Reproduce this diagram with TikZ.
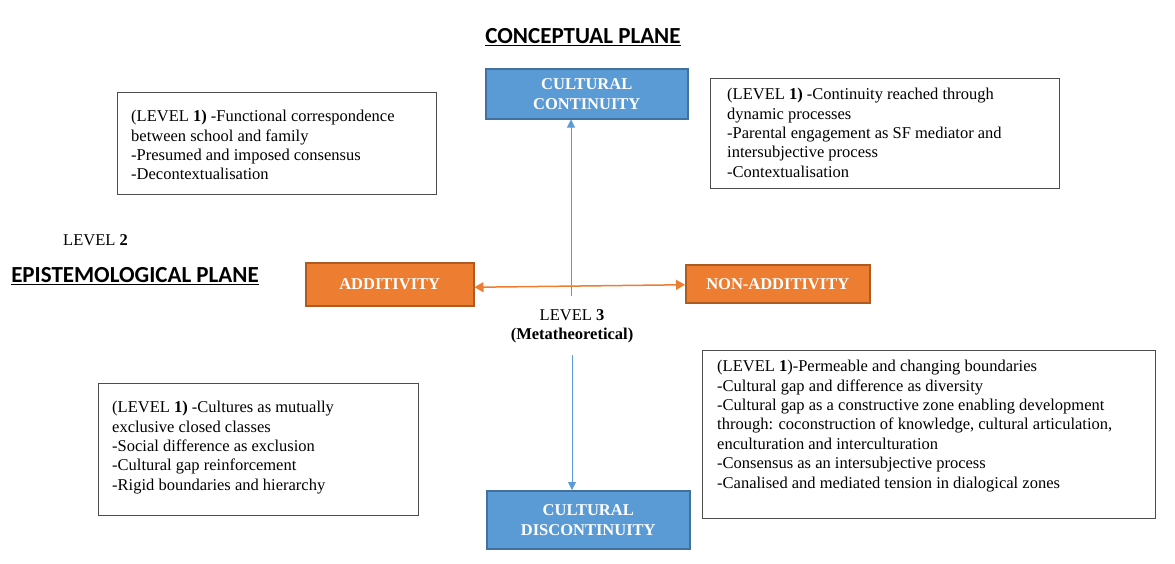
\documentclass[tikz,border=0pt]{standalone}
\usepackage{fontspec}
\setmainfont{Liberation Serif}
\newfontfamily\headfont{Carlito}
\usetikzlibrary{arrows.meta,calc}
\definecolor{boxblue}{HTML}{5B9BD5}
\definecolor{boxblueline}{HTML}{41719C}
\definecolor{boxorange}{HTML}{ED7D31}
\definecolor{boxorangeline}{HTML}{AE5A21}
\definecolor{arrowblue}{HTML}{5B9BD5}
\tikzset{
  bluebox/.style={draw=boxblueline, line width=1.5pt, fill=boxblue, text=white,
    font=\fontsize{16.5}{20}\selectfont\bfseries, align=center, inner sep=0pt, anchor=north west},
  orangebox/.style={draw=boxorangeline, line width=1.5pt, fill=boxorange, text=white,
    font=\fontsize{16.5}{20}\selectfont\bfseries, align=center, inner sep=0pt, anchor=north west},
  textbox/.style={draw=black!70, line width=1.2pt, fill=white, inner sep=0pt, anchor=north west},
  bodytext/.style={font=\fontsize{16.5}{19.4}\selectfont, align=left, inner sep=0pt, anchor=north west},
  heading/.style={font=\headfont\fontsize{23}{26}\selectfont\bfseries, inner sep=0pt},
  plain/.style={font=\fontsize{16.5}{19.4}\selectfont, inner sep=0pt, align=center},
  bluearrow/.style={draw=arrowblue, line width=0.9pt, -{Triangle[width=8pt,length=8pt]}},
  orangearrow/.style={draw=boxorange, line width=1.5pt, {Triangle[width=10pt,length=9pt]}-{Triangle[width=10pt,length=9pt]}}
}
\begin{document}
\begin{tikzpicture}[x=1pt,y=-1pt]
\useasboundingbox (0,0) rectangle (1175,563);

% headings
\node[heading] (cplane) at (583,37) {\underline{CONCEPTUAL PLANE}};
\node[heading] (eplane) at (135,276) {\underline{EPISTEMOLOGICAL PLANE}};
\node[plain, anchor=west] (lev2) at (63,240) {LEVEL \textbf{2}};

% blue boxes
\node[bluebox, minimum width=202pt, minimum height=50pt] (cont) at (485,68) {CULTURAL\\CONTINUITY};
\node[bluebox, minimum width=203pt, minimum height=58pt] (disc) at (486,490) {CULTURAL\\DISCONTINUITY};

% orange boxes
\node[orangebox, minimum width=168pt, minimum height=43pt] (add) at (305,262) {ADDITIVITY};
\node[orangebox, minimum width=184pt, minimum height=38pt] (nadd) at (685,264) {NON-ADDITIVITY};

% level 3 label
\node[plain] (lev3) at (572,326) {LEVEL \textbf{3}\\\textbf{(Metatheoretical)}};

% text boxes
\node[textbox, minimum width=319pt, minimum height=102pt] (tl) at (117,92) {};
\node[bodytext] (tltext) at ($(tl.north west)+(14,18)$) {(LEVEL \textbf{1)} -Functional correspondence\\between school and family\\-Presumed and imposed consensus\\-Decontextualisation};

\node[textbox, minimum width=349pt, minimum height=110pt] (tr) at (710,78) {};
\node[bodytext] (trtext) at ($(tr.north west)+(17,10)$) {(LEVEL \textbf{1)} -Continuity reached through\\dynamic processes\\-Parental engagement as SF mediator and\\intersubjective process\\-Contextualisation};

\node[textbox, minimum width=320pt, minimum height=132pt] (bl) at (98,383) {};
\node[bodytext] (bltext) at ($(bl.north west)+(14,18)$) {(LEVEL \textbf{1)} -Cultures as mutually\\exclusive closed classes\\-Social difference as exclusion\\-Cultural gap reinforcement\\-Rigid boundaries and hierarchy};

\node[textbox, minimum width=453pt, minimum height=168pt] (br) at (702,350) {};
\node[bodytext] (brtext) at ($(br.north west)+(15,10)$) {(LEVEL \textbf{1})-Permeable and changing boundaries\\-Cultural gap and difference as diversity\\-Cultural gap as a constructive zone enabling development\\through: coconstruction of knowledge, cultural articulation,\\enculturation and interculturation\\-Consensus as an intersubjective process\\-Canalised and mediated tension in dialogical zones};

% connectors
\coordinate (upstart) at (571,296);
\coordinate (downstart) at (572,355);
\draw[bluearrow] (upstart) -- (upstart |- cont.south);
\draw[bluearrow] (downstart) -- (downstart |- disc.north);
\draw[orangearrow] ([yshift=-3pt]add.east) -- ([yshift=-1pt]nadd.west);
\end{tikzpicture}
\end{document}
